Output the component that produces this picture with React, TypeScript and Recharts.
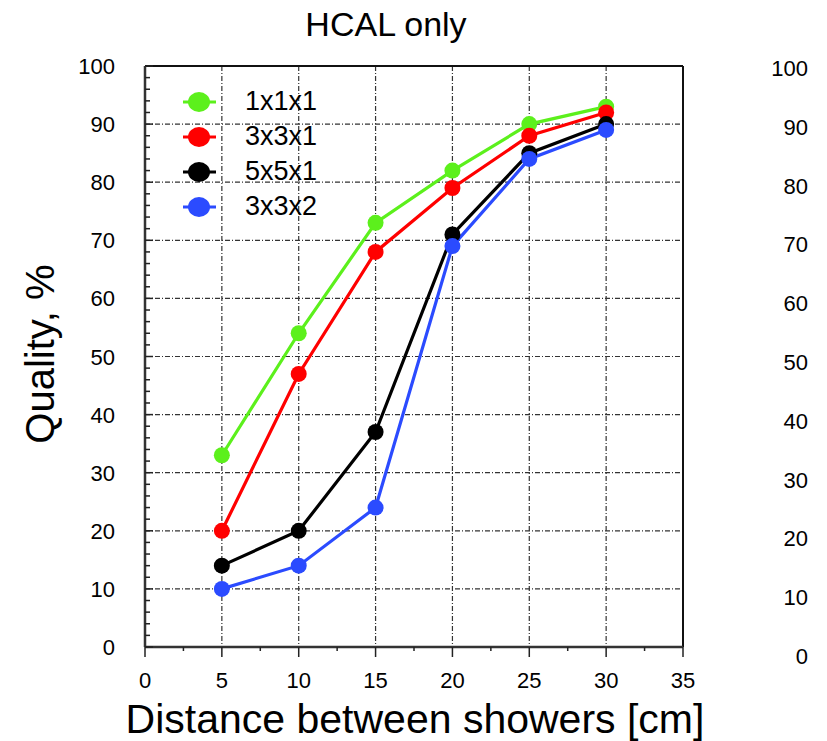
import React from "react";
import {
  LineChart,
  Line,
  XAxis,
  YAxis,
  CartesianGrid,
  ReferenceLine,
} from "recharts";

// distance between showers, cm
const distances = [5, 10, 15, 20, 25, 30];

// quality, % per clustering window
const q1x1x1 = [33, 54, 73, 82, 90, 93];
const q3x3x1 = [20, 47, 68, 79, 88, 92];
const q5x5x1 = [14, 20, 37, 71, 85, 90];
const q3x3x2 = [10, 14, 24, 69, 84, 89];

const seriesNames = ["1x1x1", "3x3x1", "5x5x1", "3x3x2"];
const seriesColors = ["#5cf01c", "#ff0000", "#000000", "#2b4bff"];

const xTicks = [0, 2.5, 5, 7.5, 10, 12.5, 15, 17.5, 20, 22.5, 25, 27.5, 30, 32.5, 35];
const yMajor = [0, 10, 20, 30, 40, 50, 60, 70, 80, 90, 100];
const yTicks = yMajor.flatMap((v) => (v < 100 ? [v, v + 2, v + 4, v + 6, v + 8] : [v]));

const FONT = '"Liberation Sans", Arial, Helvetica, sans-serif';

const data = distances.map((d, i) => ({
  d,
  s0: q1x1x1[i],
  s1: q3x3x1[i],
  s2: q5x5x1[i],
  s3: q3x3x2[i],
}));

const LeftTick = (props: any) => {
  const { x, y, payload } = props;
  const v = payload.value;
  const major = v % 10 === 0;
  return (
    <g>
      <line x1={x} x2={x + (major ? 8 : 5)} y1={y} y2={y} stroke="#222" strokeWidth={1.5} />
      {major && (
        <text x={x - 30} y={y + 8} textAnchor="end" fontSize={22} fill="#000" fontFamily={FONT}>
          {v}
        </text>
      )}
    </g>
  );
};

const BottomTick = (props: any) => {
  const { x, y, payload } = props;
  const v = payload.value;
  const major = v % 5 === 0;
  return (
    <g>
      <line x1={x} x2={x} y1={y} y2={y + (major ? 10 : 4)} stroke="#222" strokeWidth={1.5} />
      {major && (
        <text x={x} y={y + 41} textAnchor="middle" fontSize={22} fill="#000" fontFamily={FONT}>
          {v}
        </text>
      )}
    </g>
  );
};

export default function App() {
  return (
    <div style={{ position: "absolute", left: 0, top: 0, width: 827, height: 741, background: "#fff", fontFamily: FONT }}>
      <LineChart width={827} height={741} data={data} margin={{ top: 66, right: 144, bottom: 0, left: 0 }}>
        <CartesianGrid
          horizontalValues={[10, 20, 30, 40, 50, 60, 70, 80, 90]}
          verticalValues={[5, 10, 15, 20, 25, 30]}
          stroke="#333"
          strokeWidth={1.2}
          strokeDasharray="5 2 1 2"
        />
        <XAxis
          dataKey="d"
          type="number"
          domain={[0, 35]}
          ticks={xTicks}
          interval={0}
          height={94}
          tickSize={0}
          tickMargin={0}
          tick={<BottomTick />}
          axisLine={{ stroke: "#333", strokeWidth: 2.5 }}
        />
        <YAxis
          type="number"
          domain={[0, 100]}
          ticks={yTicks}
          interval={0}
          width={145}
          tickSize={0}
          tickMargin={0}
          tick={<LeftTick />}
          axisLine={{ stroke: "#333", strokeWidth: 2.5 }}
        />
        <ReferenceLine y={100} stroke="#111" strokeWidth={2} />
        <ReferenceLine x={35} stroke="#111" strokeWidth={2} />
        {seriesNames.map((name, i) => (
          <Line
            key={name}
            dataKey={`s${i}`}
            name={name}
            type="linear"
            stroke={seriesColors[i]}
            strokeWidth={3.2}
            dot={{ r: 8, fill: seriesColors[i], stroke: seriesColors[i], strokeWidth: 0 }}
            isAnimationActive={false}
          />
        ))}
      </LineChart>

      {/* axis labels of the neighbouring panel, cut off at the right edge */}
      <svg style={{ position: "absolute", left: 0, top: 0 }} width={827} height={741}>
        {yMajor.map((v) => (
          <text key={v} x={808} y={656 - v * 5.88 + 8} textAnchor="end" fontSize={22} fill="#000" fontFamily={FONT}>
            {v}
          </text>
        ))}
      </svg>

      <div
        style={{
          position: "absolute",
          left: 386,
          top: 24,
          transform: "translate(-50%, -50%)",
          fontSize: 34,
          whiteSpace: "nowrap",
          color: "#000",
        }}
      >
        HCAL only
      </div>

      <div
        style={{
          position: "absolute",
          left: 40,
          top: 354,
          transform: "translate(-50%, -50%) rotate(-90deg)",
          fontSize: 40,
          whiteSpace: "nowrap",
          color: "#000",
        }}
      >
        Quality, %
      </div>

      <div
        style={{
          position: "absolute",
          left: 415,
          top: 719,
          transform: "translate(-50%, -50%)",
          fontSize: 41,
          whiteSpace: "nowrap",
          color: "#000",
        }}
      >
        Distance between showers [cm]
      </div>

      {/* legend */}
      <div style={{ position: "absolute", left: 180, top: 84 }}>
        {seriesNames.map((name, i) => (
          <div key={name} style={{ display: "flex", alignItems: "center", height: 35 }}>
            <svg width={38} height={24}>
              <line x1={3} x2={36} y1={12} y2={12} stroke={seriesColors[i]} strokeWidth={3} />
              <ellipse cx={19} cy={12} rx={11} ry={10} fill={seriesColors[i]} />
            </svg>
            <span style={{ marginLeft: 27, fontSize: 27, color: "#000" }}>{name}</span>
          </div>
        ))}
      </div>
    </div>
  );
}
